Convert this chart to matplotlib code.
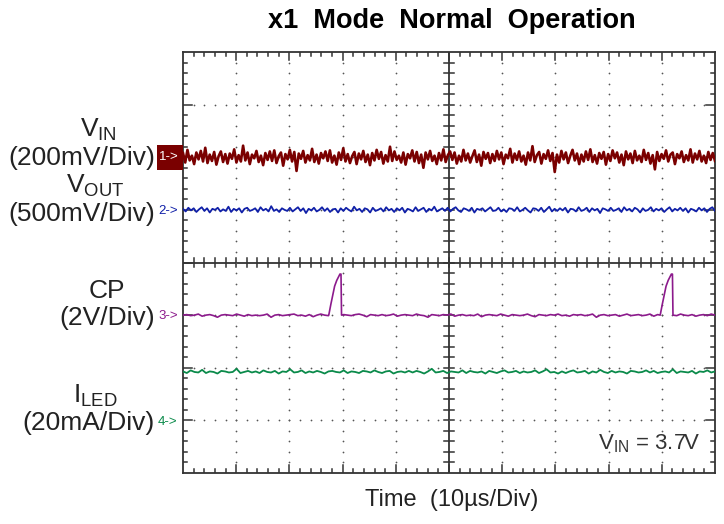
import numpy as np
import matplotlib
matplotlib.use("Agg")
import matplotlib.pyplot as plt
from matplotlib.patches import Rectangle

plt.rcParams['font.family'] = ['Liberation Sans', 'DejaVu Sans']
plt.rcParams['mathtext.default'] = 'regular'

# scope channel levels (divisions from bottom, 8 div screen, 10 div wide)
ch_level = {'vin': 6.0, 'vout': 5.0, 'cp': 3.0, 'iled': 1.92}

# noise, in 1/100 div
vin_noise = [
    8, -10, 14, -6, 3, -13, 9, -4, 12, -8, 18, -11, 5, -7, 10, -14, 2, 11, -9, 6,
    -12, 7, -3, 15, -10, 4, -8, 22, -6, 9, -13, 5, -2, 12, -9, 3, -15, 8, -5, 11,
    -7, 13, -11, 2, 9, -16, 6, -4, 14, -8, 10, -26, 7, -3, 12, -10, 4, -6, 16, -9,
    5, -12, 8, -2, 11, -7, 13, -10, 3, -14, 9, -5, 17, -8, 6, -11, 2, 10, -13, 7,
    -4, 12, -9, 5, -15, 8, -6, 14, -3, 10, -12, 4, -8, 20, -7, 11, -5, 3, -10, 9,
    -14, 6, -2, 13, -8, 10, -11, 5, -20, 9, -4, 12, -7, 3, -13, 8, -6, 15, -9, 4,
    11, -5, 9, -12, 3, -8, 14, -6, 7, -10, 2, 13, -9, 5, -16, 10, -3, 8, -11, 6,
    -7, 12, -4, 9, -13, 5, -2, 16, -10, 7, -5, 11, -8, 3, -14, 9, -6, 21, -9, 4,
    10, -12, 6, -3, 13, -7, 8, -28, 5, -10, 12, -4, 9, -11, 3, 14, -6, 7, -13, 5,
    -8, 11, -5, 15, -9, 4, -12, 8, -3, 10, -14, 6, -7, 13, -2, 9, -10, 5, -15, 11,
    -4, 7, -11, 12, -6, 3, -9, 14, -5, 8, -12, 4, -23, 10, -7, 6, -3, 13, -8, 5,
    9, -13, 6, -2, 11, -9, 4, -6, 15, -10, 7, -4, 12, -8, 3, -11, 10, -5, 8, -7,
]
vout_noise = [
    2, -3, 4, -1, 3, -4, 1, 5, -2, 3, -5, 2, 0, 4, -3, 1, -2, 6, -4, 2,
    -1, 3, -5, 2, 4, -2, 0, 3, -4, 5, -1, 2, -3, 7, -2, 1, -4, 3, 0, -2,
    4, -3, 1, 5, -2, 3, -6, 2, -1, 4, -3, 0, 5, -2, 3, -4, 1, 2, -5, 3,
    -2, 4, 0, -3, 6, -1, 2, -4, 3, 1, -5, 4, -2, 0, 3, -3, 5, -1, 2, -4,
    3, -1, 4, -5, 2, 0, -3, 5, -2, 1, 4, -4, 2, -1, 6, -3, 0, 3, -2, 4,
    -3, 2, 5, -1, -4, 3, 1, -2, 4, -5, 2, 0, 3, -3, 1, 5, -2, -1, 4, -3,
    1, -4, 3, 2, -2, 5, -3, 0, 4, -1, -5, 3, 2, -2, 4, -4, 1, 6, -3, 2,
    -2, 3, -1, 4, -5, 2, 1, -3, 5, -2, 0, 4, -4, 3, -1, 2, -6, 3, 1, -2,
    4, -2, 0, 3, -4, 5, -1, 2, -3, 4, 1, -5, 3, -2, 0, 5, -3, 2, -1, 3,
    -4, 1, 5, -3, 2, -1, 4, -2, 3, -5, 2, 0, -3, 4, -1, 3, -4, 2, 5, -2,
]
cp_noise = [
    0, 1, -1, 0, 2, -2, 0, 1, -1, -4, 0, 1, 0, -1, 2, 0, -2, 1, -1, 0,
    -1, 0, 2, -4, 0, 1, -1, 0, 1, 2, -1, 0, -2, 1, -3, 0, 2, 0, -1, 1,
    0, -2, 1, 0, -1, 1, 2, 0, -3, 1, 0, -1, 1, -1, 0, 2, -2, 0, 1, 0,
    -1, 2, 0, -1, -4, 1, 0, -1, 1, 0, 2, -2, 0, 1, -1, 0, -1, 2, -3, 0,
    1, 0, -1, 2, 0, -2, 1, 0, -1, 0, 2, -1, -3, 1, 0, -1, 1, 0, 2, -1,
    0, -2, 1, 0, 1, -1, 0, 2, -4, 0, 1, -1, 0, 1, -2, 0, 2, -1, 0, 1,
    -1, 0, 2, -2, 1, 0, -3, 1, 0, -1, 2, 0, -1, 1, -2, 0, 1, -1, 2, 0,
]
iled_noise = [
    1, -2, 3, 0, -1, 4, -2, 1, 0, -3, 2, 1, -1, 0, 6, -2, 0, 2, -1, 1,
    -2, 3, 0, -1, 2, -3, 1, 0, 5, -1, 0, 3, -2, 1, -1, 2, 0, -3, 1, 2,
    0, -1, 3, -2, 1, 0, -2, 2, 1, -1, 3, 0, -2, 1, 2, -3, 0, 1, -1, 2,
    -1, 2, 0, -3, 1, 6, -1, 0, 2, -2, 1, 0, -1, 3, -2, 2, 0, -1, 1, -3,
    2, 0, -2, 1, 3, -1, 0, 2, -2, 1, -1, 0, 3, -2, 1, 5, -1, 0, -3, 1,
    -2, 1, 3, -1, 0, 2, -3, 1, -1, 4, 0, -2, 2, -1, 1, 0, -3, 2, 1, -1,
    0, 3, -1, 2, -2, 0, 1, -1, 5, -2, 1, 0, -1, 2, -3, 1, 0, 3, -1, 1,
]

# CP charge-pump pulse shape (div offset from pulse start, level above baseline)
cp_pulse_start = [2.74, 8.97]
cp_pulse_dt = [0.0, 0.04, 0.08, 0.11, 0.15, 0.19, 0.21, 0.23, 0.24]
cp_pulse_dv = [0.0, 0.21, 0.40, 0.55, 0.66, 0.74, 0.78, 0.78, 0.0]

fig = plt.figure(figsize=(7.24, 5.24), dpi=100)
W, H = 724.0, 524.0
ax = fig.add_axes([183 / W, 1 - 473 / H, 532 / W, 421 / H])
ax.set_xlim(0, 10)
ax.set_ylim(0, 8)
ax.set_xticks([])
ax.set_yticks([])
for s in ax.spines.values():
    s.set_color('#333333')
    s.set_linewidth(1.3)

grid_c = '#333333'
# edge ticks, pointing inward
for i in range(1, 50):
    x = i * 0.2
    ln = 0.16 if i % 5 == 0 else 0.08
    ax.plot([x, x], [0, ln], color=grid_c, lw=1.1)
    ax.plot([x, x], [8, 8 - ln], color=grid_c, lw=1.1)
for i in range(1, 40):
    y = i * 0.2
    ln = 0.16 if i % 5 == 0 else 0.08
    ax.plot([0, ln], [y, y], color=grid_c, lw=1.1)
    ax.plot([10, 10 - ln], [y, y], color=grid_c, lw=1.1)

# center cross with ticks
ax.axvline(5, color=grid_c, lw=1.3)
ax.axhline(4, color=grid_c, lw=1.3)
for i in range(1, 50):
    x = i * 0.2
    ax.plot([x, x], [3.91, 4.09], color=grid_c, lw=1.1)
for i in range(1, 40):
    y = i * 0.2
    ax.plot([4.9, 5.1], [y, y], color=grid_c, lw=1.1)

# dotted graticule
dx, dy = [], []
for gx in [1, 2, 3, 4, 6, 7, 8, 9]:
    for i in range(1, 40):
        dx.append(gx)
        dy.append(i * 0.2)
for gy in [1, 2, 3, 5, 6, 7]:
    for i in range(1, 50):
        dx.append(i * 0.2)
        dy.append(gy)
ax.scatter(dx, dy, s=1.6, color='#555555', linewidths=0, zorder=2)

c_vin, c_vout, c_cp, c_iled = '#7a0000', '#1020a8', '#8c1a8c', '#0a8a4a'

t = np.linspace(0, 10, len(vin_noise))
ax.plot(t, ch_level['vin'] + np.array(vin_noise) / 100.0, color=c_vin, lw=1.9,
        zorder=4)
t = np.linspace(0, 10, len(vout_noise))
ax.plot(t, ch_level['vout'] + np.array(vout_noise) / 100.0, color=c_vout, lw=1.3,
        zorder=4)
t = np.linspace(0, 10, len(iled_noise))
ax.plot(t, ch_level['iled'] + np.array(iled_noise) / 100.0, color=c_iled, lw=1.3,
        zorder=4)

# CP trace: baseline noise with pulses inserted
t = np.linspace(0, 10, len(cp_noise))
v = ch_level['cp'] + np.array(cp_noise) / 100.0
keep = np.ones(len(t), bool)
pt, pv = [], []
for st in cp_pulse_start:
    keep &= ~((t >= st) & (t <= st + cp_pulse_dt[-1]))
    pt += [st + d for d in cp_pulse_dt]
    pv += [ch_level['cp'] + d for d in cp_pulse_dv]
tt = np.concatenate([t[keep], pt])
vv = np.concatenate([v[keep], pv])
order = np.argsort(tt, kind='stable')
ax.plot(tt[order], vv[order], color=c_cp, lw=1.2, zorder=4)

ax.text(9.72, 0.55, r'$V_{IN}$ = 3.7V', fontsize=16, color='#333333',
        ha='right', va='center')


def fy(py):
    return 1 - py / H


txt_c = '#222222'
fs = 19
fig.text(98 / W, fy(130), r'$V_{IN}$', fontsize=fs, color=txt_c, ha='center', va='center')
fig.text(155 / W, fy(158), '(200mV/Div)', fontsize=fs, color=txt_c, ha='right', va='center')
fig.text(95 / W, fy(186), r'$V_{OUT}$', fontsize=fs, color=txt_c, ha='center', va='center')
fig.text(155 / W, fy(214), '(500mV/Div)', fontsize=fs, color=txt_c, ha='right', va='center')
fig.text(107 / W, fy(291), 'CP', fontsize=fs, color=txt_c, ha='center', va='center')
fig.text(155 / W, fy(318), '(2V/Div)', fontsize=fs, color=txt_c, ha='right', va='center')
fig.text(95 / W, fy(396), r'$I_{LED}$', fontsize=fs, color=txt_c, ha='center', va='center')
fig.text(155 / W, fy(423), '(20mA/Div)', fontsize=fs, color=txt_c, ha='right', va='center')

# channel markers
fig.patches.append(Rectangle((157 / W, fy(170)), 26 / W, 25 / H, transform=fig.transFigure,
                             facecolor=c_vin, edgecolor='none'))
fig.text(159 / W, fy(157), '1->', fontsize=9.5, color='white', ha='left', va='center')
fig.text(158 / W, fy(211), '2->', fontsize=9.5, color=c_vout, ha='left', va='center')
fig.text(158 / W, fy(316), '3->', fontsize=9.5, color=c_cp, ha='left', va='center')
fig.text(158 / W, fy(422), '4->', fontsize=9.5, color=c_iled, ha='left', va='center')

fig.text(452 / W, fy(21), 'x1  Mode  Normal  Operation', fontsize=19.5, fontweight='bold',
         color='black', ha='center', va='center')
fig.text(452 / W, fy(500), 'Time  (10\u00b5s/Div)', fontsize=17, color=txt_c,
         ha='center', va='center')

fig.savefig('out.png', dpi=100)
